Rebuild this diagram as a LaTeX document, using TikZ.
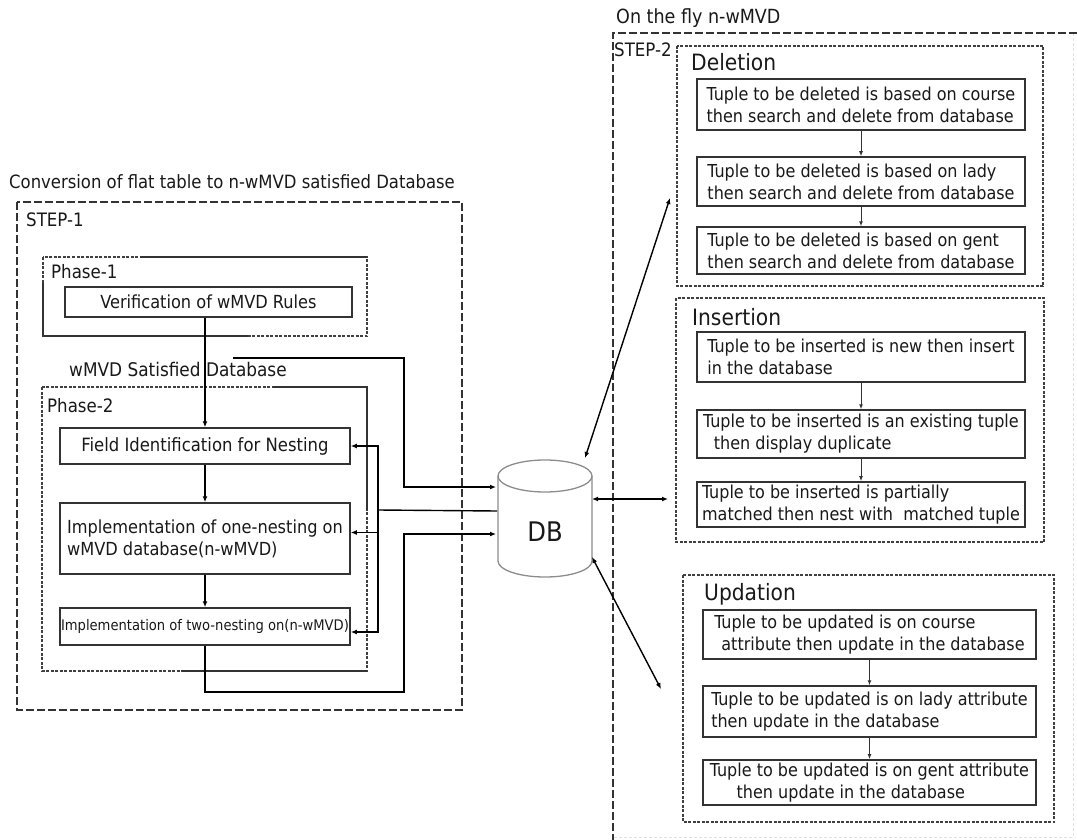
\documentclass[tikz,border=0pt]{standalone}
\usepackage{fontspec}
\setmainfont{DejaVu Sans Condensed}
\usetikzlibrary{arrows.meta,calc}
\begin{document}
\begin{tikzpicture}[x=1pt,y=-1pt,
  box/.style={draw=black!80, line width=1.5pt, fill=white, inner sep=3pt,
    font=\fontsize{18}{22}\selectfont, text=black!90},
  rbox/.style={box, align=left, minimum width=328pt, inner xsep=2pt, font=\fontsize{17.8}{22}\selectfont},
  ubox/.style={rbox, minimum width=333pt},
  lbl/.style={anchor=west, inner sep=0pt, font=\fontsize{18.5}{21}\selectfont, text=black!90},
  big/.style={anchor=west, inner sep=0pt, font=\fontsize{22.5}{26}\selectfont, text=black!90},
  outer/.style={draw=black!80, line width=1.3pt, dash pattern=on 8pt off 3pt},
  inner/.style={draw=black!75, line width=1.2pt, dash pattern=on 3pt off 1.5pt},
  solidov/.style={draw=black!80, line width=1.3pt},
  conn/.style={draw=black, line width=1.4pt},
  arr/.style={conn, -{Latex[length=6pt,width=5pt]}},
  arrs/.style={draw=black!80, line width=1pt, -{Latex[length=5pt,width=4pt]}},
  darr/.style={conn, {Latex[length=6pt,width=5pt]}-{Latex[length=6pt,width=5pt]}},
  cyl/.style={draw=black!45, line width=1.3pt}]
\useasboundingbox (0,0) rectangle (1077,840);

% ---------------- STEP-1 ----------------
\node[lbl, font=\fontsize{18.3}{21}\selectfont] (t1) at (9,182) {Conversion of flat table to n-wMVD satisfied Database};
\draw[outer] (17,202) rectangle (462,710);
\node[lbl] (s1l) at (26,220) {STEP-1};

% Phase-1 frame (partly dashed, partly solid)
\draw[inner] (43,257) rectangle (367,336);
\draw[solidov] (140,257) -- (367,257);
\draw[solidov] (43,283) -- (43,336) -- (248,336);
\node[lbl] (p1l) at (51,272) {Phase-1};
\node[box, minimum width=287pt, minimum height=30pt] (ver) at (208.5,302) {Verification of wMVD Rules};

\node[lbl, font=\fontsize{18.8}{21}\selectfont] (wl) at (69,369) {wMVD Satisfied Database};

% Phase-2 frame
\draw[inner] (42,387) rectangle (367,671);
\draw[solidov] (273,387) -- (367,387) -- (367,510);
\draw[solidov] (182,671) -- (367,671);
\node[lbl] (p2l) at (47,406) {Phase-2};

\node[box, minimum width=290pt, minimum height=36pt, font=\fontsize{18.3}{22}\selectfont] (fid) at (205,446) {Field Identification for Nesting};
\node[box, minimum width=290pt, minimum height=71pt, align=left] (one) at (205,538.5) {Implementation of one-nesting on\\wMVD database(n-wMVD)};
\node[box, minimum width=290pt, minimum height=37pt, inner xsep=1pt, font=\fontsize{14.6}{17}\selectfont] (two) at (205,626.5) {Implementation of two-nesting on(n-wMVD)};

% ---------------- DB ----------------
\node[minimum width=94pt, minimum height=117pt, inner sep=0pt] (DB) at (545,518.5) {};
\draw[cyl] (545,476) ellipse [x radius=47pt, y radius=16pt];
\draw[cyl] (498,476) -- (498,561) arc[start angle=180, end angle=360, x radius=47pt, y radius=16pt] -- (592,476);
\node[inner sep=0pt, font=\fontsize{27}{30}\selectfont, text=black!90] (dbt) at (545,532) {DB};

\coordinate (d1) at (496,487);
\coordinate (d2) at (497,511);
\coordinate (d3) at (496,534);
\coordinate (s1) at (233,358);
\coordinate (fb) at (378,510);

% left connectors
\draw[arr] (ver.south -| fid.north) -- (fid.north);
\draw[arr] (fid.south) -- (one.north);
\draw[arr] (one.south) -- (two.north);
\draw[arr] (s1) -- (404,358) |- (d1);
\draw[arr] (two.south) |- (404,692) |- (d3);
\draw[conn] (d2) -- (fb);
\draw[arr] (fb) |- (fid.east);
\draw[arr] (fb) |- ([yshift=6pt]one.east);
\draw[arr] (fb) |- ([yshift=-5.5pt]two.east);

% ---------------- STEP-2 ----------------
\node[lbl, font=\fontsize{19.5}{22}\selectfont] (t2) at (616,18) {On the fly n-wMVD};
\draw[draw=black!12, line width=1pt, dash pattern=on 3pt off 2pt] (1073,33) -- (1073,837) -- (613,837);
\draw[outer] (1077,33) -- (613,33) -- (613,840);
\node[lbl] (s2l) at (614,50) {STEP-2};

% Deletion
\draw[inner] (677,46) rectangle (1043,286);
\node[big] (dell) at (691,62) {Deletion};
\node[rbox, minimum height=51pt] (del1) at (861,104.5) {Tuple to be deleted is based on course\\then search and delete from database};
\node[rbox, minimum height=49pt] (del2) at (861,181.5) {Tuple to be deleted is based on lady\\then search and delete from database};
\node[rbox, minimum height=47pt] (del3) at (861,250.5) {Tuple to be deleted is based on gent\\then search and delete from database};
\draw[arrs] (del1.south) -- (del2.north);
\draw[arrs] (del2.south) -- (del3.north);

% Insertion
\draw[inner] (676,298) rectangle (1044,542);
\node[big] (insl) at (692,317) {Insertion};
\node[rbox, minimum height=50pt] (ins1) at (861,357) {Tuple to be inserted is new then insert\\in the database};
\node[rbox, minimum height=48pt] (ins2) at (861,434) {Tuple to be inserted is an existing tuple\\\hspace*{0.6em}then display duplicate};
\node[rbox, minimum height=45pt] (ins3) at (861,504.5) {Tuple to be inserted is partially\\matched then nest with\ \ matched tuple};
\draw[arrs] (ins1.south) -- (ins2.north);
\draw[arrs] (ins2.south) -- (ins3.north);

% Updation
\draw[inner] (683,575) rectangle (1054,822);
\node[big] (updl) at (704,594) {Updation};
\node[ubox, minimum height=49pt] (upd1) at (869.5,634.5) {Tuple to be updated is on course\\\hspace*{0.4em}attribute then update in the database};
\node[ubox, minimum height=51pt] (upd2) at (869.5,711.5) {Tuple to be updated is on lady attribute\\then update in the database};
\node[ubox, minimum height=45pt] (upd3) at (869.5,782.5) {Tuple to be updated is on gent attribute\\\hspace*{1.5em}then update in the database};
\draw[arrs] (upd1.south) -- (upd2.north);
\draw[arrs] (upd2.south) -- (upd3.north);

% DB to STEP-2 connectors
\coordinate (e1) at (585,458);
\coordinate (e2) at (670,198);
\coordinate (e3) at (592,499);
\coordinate (e4) at (668,499);
\coordinate (e5) at (592,557);
\coordinate (e6) at (661,689);
\draw[darr] (e1) -- (e2);
\draw[darr] (e3) -- (e4);
\draw[darr] (e5) -- (e6);
\end{tikzpicture}
\end{document}
